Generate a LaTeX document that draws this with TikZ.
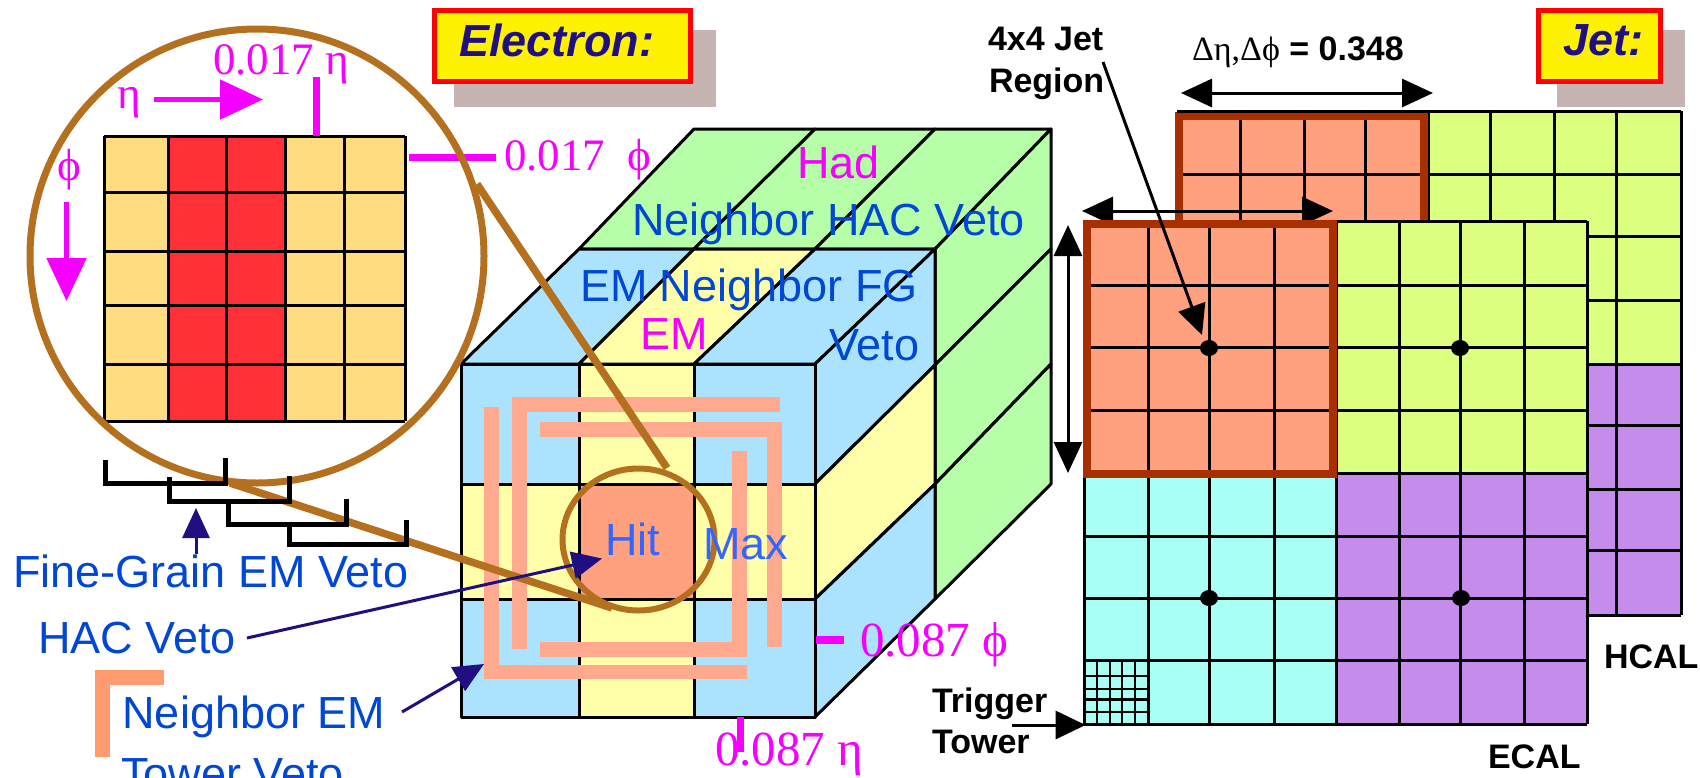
\documentclass[tikz,border=0pt]{standalone}
\usepackage{fontspec}
\setmainfont{Liberation Sans}
\newfontfamily\serifgr{Liberation Serif}
\usetikzlibrary{arrows.meta}
\definecolor{cblue}{HTML}{ABE3FF}
\definecolor{cyell}{HTML}{FFFFAA}
\definecolor{cgreen}{HTML}{B6FFA8}
\definecolor{chit}{HTML}{FFA07F}
\definecolor{cpeach}{HTML}{FFAA8E}
\definecolor{clegend}{HTML}{FF9B6E}
\definecolor{cbrown}{HTML}{B4701F}
\definecolor{ctan}{HTML}{FFDC7F}
\definecolor{cred}{HTML}{FF3038}
\definecolor{cmag}{HTML}{F500FF}
\definecolor{cnavy}{HTML}{1F0F80}
\definecolor{ctxt}{HTML}{0047D6}
\definecolor{chitt}{HTML}{3366FF}
\definecolor{cshadow}{HTML}{C6B4B2}
\definecolor{clime}{HTML}{DDFF7F}
\definecolor{cpurple}{HTML}{C58CEC}
\definecolor{ccyan}{HTML}{AAFFF5}
\definecolor{corange}{HTML}{FFA07F}
\definecolor{cframe}{HTML}{A83000}
\tikzset{
  x=0.5pt,y=-0.5pt,
  txt/.style={inner sep=0pt,outer sep=0pt,anchor=base west},
  bluetxt/.style={txt,text=ctxt,font=\fontsize{22.5}{27}\selectfont},
  hittxt/.style={txt,text=chitt,font=\fontsize{22.5}{27}\selectfont},
  magtxt/.style={txt,text=cmag,font=\fontsize{22.5}{27}\selectfont},
  magser/.style={txt,text=cmag,font=\fontsize{22.5}{27}\selectfont\serifgr},
  magserb/.style={txt,text=cmag,font=\fontsize{24.5}{29}\selectfont\serifgr},
  blacktxt/.style={txt,text=black,font=\fontsize{17}{20}\selectfont\bfseries},
  titletxt/.style={txt,text=cnavy,font=\fontsize{22.5}{27}\selectfont\bfseries\itshape},
  cubeline/.style={draw=black,line width=1.5pt,line join=round},
  gridline/.style={draw=black,line width=1.5pt},
  peachbar/.style={fill=cpeach,draw=none},
  leader/.style={draw=cbrown,line width=3.75pt},
  ticklow/.style={draw=cmag,line width=3.5pt},
  bracketline/.style={draw=black,line width=2.5pt,line cap=rect,line join=miter},
  magarrow/.style={draw=cmag,fill=cmag,line width=2.5pt,-{Triangle[length=21.5pt,width=19.5pt]}},
  navyarrow/.style={draw=cnavy,fill=cnavy,line width=1.5pt,-{Triangle[length=15pt,width=13.5pt]}},
  blackarrow/.style={draw=black,fill=black,line width=1.5pt,-{Triangle[length=15pt,width=14pt]}},
  dblarrow/.style={draw=black,fill=black,line width=1.5pt,{Triangle[length=15.5pt,width=14pt]}-{Triangle[length=15.5pt,width=14pt]}},
  dotmark/.style={fill=black,draw=none,shape=ellipse,minimum width=9pt,minimum height=8pt,inner sep=0pt},
  framebox/.style={draw=red,fill=yellow,line width=2.5pt},
}
\usetikzlibrary{shapes.geometric}
\begin{document}
\begin{tikzpicture}
\useasboundingbox (0,0) rectangle (1700,777);
% ---------- Electron title
\fill[cshadow] (454,30) rectangle (716,107);
\draw[framebox] (434.5,10) rectangle (690,81.5);
\node[titletxt] (electron) at (459,56) {Electron:};
% ---------- Electron grid
\fill[ctan] (104,136) rectangle (405,421);
\fill[cred] (168,136) rectangle (285,421);
\foreach \gx in {104,168,226,285,344,405} \draw[gridline] (\gx,136) -- (\gx,421);
\foreach \gy in {136,192,251,305,364,421} \draw[gridline] (104,\gy) -- (405,\gy);
\draw[ticklow] (316,77) -- (316,136);
\draw[ticklow] (409,157) -- (496,157);
\coordinate (etatail) at (154,99.5); \coordinate (etatip) at (263,99.5);
\coordinate (phitail) at (66.5,202); \coordinate (phitip) at (66.5,301);
\draw[magarrow] (etatail) -- (etatip);
\draw[magarrow] (phitail) -- (phitip);
% ---------- Cube, top
\filldraw[cubeline,fill=cgreen] (579,249)--(694,129)--(815,129)--(694,249)--cycle;
\filldraw[cubeline,fill=cgreen] (694,249)--(815,129)--(935,129)--(815,249)--cycle;
\filldraw[cubeline,fill=cgreen] (815,249)--(935,129)--(1051,129)--(935,249)--cycle;
\filldraw[cubeline,fill=cblue] (461,364)--(579,249)--(694,249)--(579,364)--cycle;
\filldraw[cubeline,fill=cyell] (579,364)--(694,249)--(815,249)--(694,364)--cycle;
\filldraw[cubeline,fill=cblue] (694,364)--(815,249)--(935,249)--(815,364)--cycle;
% right side
\filldraw[cubeline,fill=cgreen] (935,249)--(1051,129)--(1051,249)--(935,365)--cycle;
\filldraw[cubeline,fill=cgreen] (935,365)--(1051,249)--(1051,364)--(935,484)--cycle;
\filldraw[cubeline,fill=cgreen] (935,484)--(1051,364)--(1051,484)--(935,599)--cycle;
\filldraw[cubeline,fill=cblue] (815,364)--(935,249)--(935,365)--(815,484)--cycle;
\filldraw[cubeline,fill=cyell] (815,484)--(935,365)--(935,484)--(815,599)--cycle;
\filldraw[cubeline,fill=cblue] (815,599)--(935,484)--(935,599)--(815,717)--cycle;
% front
\filldraw[cubeline,fill=cblue] (461,364) rectangle (579,484);
\filldraw[cubeline,fill=cyell] (579,364) rectangle (694,484);
\filldraw[cubeline,fill=cblue] (694,364) rectangle (815,484);
\filldraw[cubeline,fill=cyell] (461,484) rectangle (579,599);
\filldraw[cubeline,fill=chit] (579,484) rectangle (694,599);
\filldraw[cubeline,fill=cyell] (694,484) rectangle (815,599);
\filldraw[cubeline,fill=cblue] (461,599) rectangle (579,717);
\filldraw[cubeline,fill=cyell] (579,599) rectangle (694,717);
\filldraw[cubeline,fill=cblue] (694,599) rectangle (815,717);
% peach brackets
\fill[peachbar] (483.5,407) rectangle (498.5,679);
\fill[peachbar] (483.5,665) rectangle (747,679);
\fill[peachbar] (511.5,397) rectangle (526.5,649);
\fill[peachbar] (511.5,397) rectangle (780,412);
\fill[peachbar] (540,422) rectangle (782,437);
\fill[peachbar] (767,422) rectangle (782,647);
\fill[peachbar] (732,451) rectangle (747,657);
\fill[peachbar] (540,642) rectangle (744,657);
% magenta ticks at cube
\draw[draw=cmag,line width=4pt] (815.5,640) -- (844,640);
\draw[ticklow] (740,717) -- (740,752);
% ---------- circles and leaders
\draw[draw=cbrown,line width=3.5pt] (257,256) circle [radius=227*0.5pt];
\draw[draw=cbrown,line width=3pt] (638.5,539.5) ellipse [x radius=38pt,y radius=35.5pt];
\draw[leader] (477,184) -- (667,468);
\draw[leader] (230,483) -- (612,608);
% ---------- fine grain brackets
\draw[bracketline] (105,462) -- (105,483) -- (225,483) -- (225,460);
\draw[bracketline] (169,479) -- (169,501) -- (289,501) -- (289,478);
\draw[bracketline] (228,502) -- (228,524) -- (346,524) -- (346,501);
\draw[bracketline] (289,525) -- (289,544) -- (406,544) -- (406,522);
% ---------- legend corner
\fill[clegend] (95,670) rectangle (110,757);
\fill[clegend] (95,670) rectangle (164,685);
% ---------- Jet title
\fill[cshadow] (1557,30) rectangle (1685,107);
\draw[framebox] (1538.5,10) rectangle (1660,81.5);
\node[titletxt] (jet) at (1563,55) {Jet:};
% ---------- HCAL plane
\fill[corange] (1177,111) rectangle (1428,364);
\fill[clime] (1428,111) rectangle (1681,364);
\fill[cpurple] (1428,364) rectangle (1681,615);
\foreach \gx in {1240,1304,1365,1428,1490,1554,1616,1681} \draw[gridline] (\gx,111) -- (\gx,615);
\foreach \gy in {174,236,300,364,425,489,550,615} \draw[gridline] (1177,\gy) -- (1681,\gy);
\draw[draw=cframe,line width=4pt] (1178.5,364) -- (1178.5,116) -- (1423.5,116) -- (1423.5,364);
\draw[gridline] (1177,111) -- (1681,111);
% arrows over HCAL
\coordinate (dimAl) at (1181,93); \coordinate (dimAr) at (1433,93);
\draw[dblarrow] (dimAl) -- (dimAr);
\coordinate (dimBl) at (1082,211); \coordinate (dimBr) at (1333,211);
\draw[dblarrow] (dimBl) -- (dimBr);
\coordinate (dimCt) at (1068,225); \coordinate (dimCb) at (1068,473);
\draw[dblarrow] (dimCt) -- (dimCb);
% ---------- ECAL plane
\fill[corange] (1084,221) rectangle (1336,473);
\fill[clime] (1336,221) rectangle (1587,473);
\fill[ccyan] (1084,473) rectangle (1336,724);
\fill[cpurple] (1336,473) rectangle (1587,724);
\foreach \gx in {1084,1148,1209,1274,1336,1399,1460,1524,1587} \draw[gridline] (\gx,221) -- (\gx,724);
\foreach \gy in {221,285,347,410,473,536,598,660,724} \draw[gridline] (1084,\gy) -- (1587,\gy);
\foreach \gx in {1097,1110,1122,1135} \draw[draw=black,line width=1.2pt] (\gx,660) -- (\gx,724);
\foreach \gy in {676,689,699.5,712} \draw[draw=black,line width=1.2pt] (1084,\gy) -- (1148,\gy);
\draw[draw=cframe,line width=4pt] (1087,224) rectangle (1333,474);
\node[dotmark] (dotA) at (1209,348) {};
\node[dotmark] (dotB) at (1460,348) {};
\node[dotmark] (dotC) at (1209,598) {};
\node[dotmark] (dotD) at (1461,598) {};
% ---------- labels
\node[magser] (eta017) at (213,74) {0.017 η};
\node[magser] (etasym) at (117,108) {η};
\node[magser] (phisym) at (57,180) {ϕ};
\node[magser] (phi017) at (504,170) {0.017\ \ ϕ};
\node[magtxt] (had) at (797,178) {Had};
\node[bluetxt] (nhv) at (632,235) {Neighbor HAC Veto};
\node[bluetxt] (emn) at (580,301) {EM Neighbor FG};
\node[magtxt] (em) at (640,349) {EM};
\node[bluetxt] (veto) at (829,360) {Veto};
\node[hittxt] (hit) at (605,555) {Hit};
\node[hittxt] (max) at (703,559) {Max};
\node[magserb] (phi087) at (860,656) {0.087 ϕ};
\node[magserb] (eta087) at (715,765) {0.087 η};
\node[bluetxt] (fgv) at (13,587) {Fine-Grain EM Veto};
\node[bluetxt] (hacv) at (38,653) {HAC Veto};
\node[bluetxt] (nem) at (122.5,728) {Neighbor EM};
\node[bluetxt] (tow) at (121,789) {Tower Veto};
\node[blacktxt] (jeta) at (988,50) {4x4 Jet};
\node[blacktxt] (jetb) at (989,92) {Region};
\node[txt,font=\fontsize{17}{20}\selectfont] (dim) at (1192,60) {{\serifgr Δη,Δϕ} \textbf{= 0.348}};
\node[blacktxt] (trig) at (932,712) {Trigger};
\node[blacktxt] (towr) at (932,753) {Tower};
\node[blacktxt] (hcal) at (1604,668) {HCAL};
\node[blacktxt] (ecal) at (1488,768) {ECAL};
% ---------- pointer arrows
\coordinate (fgtail) at (196,554); \coordinate (fgtip) at (196,508);
\draw[navyarrow] (fgtail) -- (fgtip);
\coordinate (hactail) at (247,638); \coordinate (hactip) at (602,558.5);
\draw[navyarrow] (hactail) -- (hactip);
\coordinate (ntail) at (402,712); \coordinate (ntip) at (484,664);
\draw[navyarrow] (ntail) -- (ntip);
\coordinate (jrtail) at (1103,62); \coordinate (jrtip) at (1202,335);
\draw[blackarrow] (jrtail) -- (jrtip);
\coordinate (ttail) at (1012,725); \coordinate (ttip) at (1085.6,725);
\draw[blackarrow] (ttail) -- (ttip);
\end{tikzpicture}
\end{document}
